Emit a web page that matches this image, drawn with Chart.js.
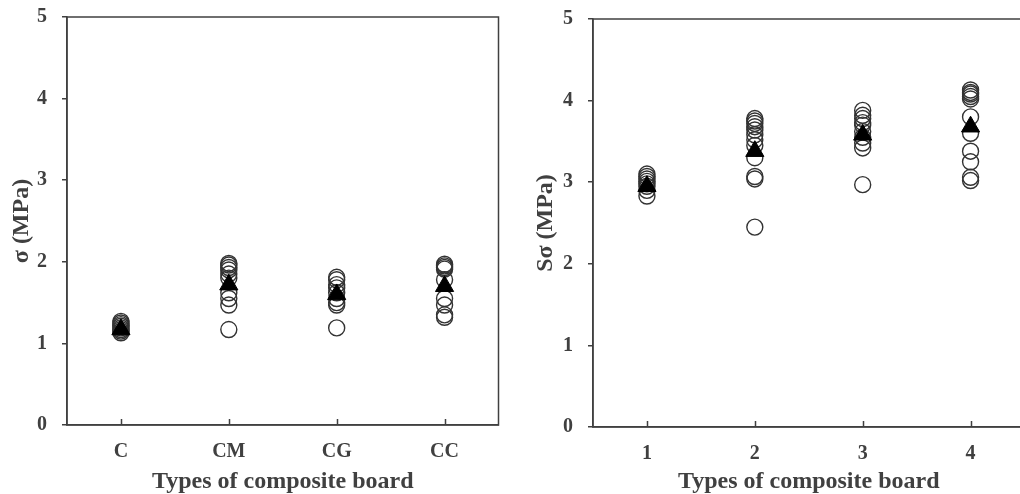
<!DOCTYPE html>
<html>
<head>
<meta charset="utf-8">
<script src="https://cdn.jsdelivr.net/npm/chart.js@4/dist/chart.umd.min.js"></script>
<style>
  html, body { margin: 0; padding: 0; background: #fff; overflow: hidden; }
  body { width: 1020px; height: 494px; position: relative; }
  canvas { position: absolute; top: 0; }
  #leftChart { left: 0; }
  #rightChart { left: 510px; }
</style>
</head>
<body>
<canvas id="leftChart" width="510" height="494"></canvas>
<canvas id="rightChart" width="526" height="494"></canvas>
<script>
// left panel: sigma per board type
const leftCats = ['C', 'CM', 'CG', 'CC'];
const leftVals = [
  [1.27, 1.25, 1.23, 1.21, 1.19, 1.17, 1.15, 1.13],
  [1.98, 1.96, 1.93, 1.90, 1.85, 1.80, 1.62, 1.55, 1.47, 1.17],
  [1.81, 1.78, 1.72, 1.68, 1.62, 1.55, 1.50, 1.47, 1.19],
  [1.97, 1.95, 1.93, 1.91, 1.78, 1.55, 1.47, 1.35, 1.32]
];
const leftMeans = [1.17, 1.72, 1.60, 1.70];

// right panel: S-sigma per board type
const rightCats = ['1', '2', '3', '4'];
const rightVals = [
  [3.10, 3.07, 3.04, 3.01, 2.98, 2.95, 2.90, 2.83],
  [3.78, 3.75, 3.72, 3.68, 3.64, 3.58, 3.52, 3.45, 3.30, 3.07, 3.04, 2.45],
  [3.88, 3.82, 3.78, 3.73, 3.70, 3.62, 3.55, 3.48, 3.42, 2.97],
  [4.13, 4.10, 4.08, 4.05, 4.02, 3.80, 3.60, 3.38, 3.25, 3.06, 3.02]
];
const rightMeans = [2.95, 3.38, 3.58, 3.68];

const yTicks = [0, 1, 2, 3, 4, 5];

const ink = '#404040';
const serif = '"Liberation Serif", "Times New Roman", serif';

// box round the plot area and short inward ticks on the x axis
const framePlugin = {
  id: 'frame',
  afterDraw(chart) {
    const { ctx, chartArea } = chart;
    const xs = chart.scales.x;
    ctx.save();
    ctx.strokeStyle = ink;
    ctx.lineWidth = 1.5;
    ctx.strokeRect(chartArea.left, chartArea.top, chartArea.right - chartArea.left, chartArea.bottom - chartArea.top);
    ctx.beginPath();
    xs.ticks.forEach((t, i) => {
      const px = Math.round(xs.getPixelForTick(i)) + 0.5;
      ctx.moveTo(px, chartArea.bottom);
      ctx.lineTo(px, chartArea.bottom - 6);
    });
    ctx.stroke();
    ctx.restore();
  }
};

function makeDatasets(cats, vals, means) {
  const pts = [];
  vals.forEach((arr, i) => arr.forEach(v => pts.push({ x: cats[i], y: v })));
  return [
    {
      label: 'mean',
      data: means.map((v, i) => ({ x: cats[i], y: v })),
      pointStyle: 'triangle',
      pointRadius: 10.5,
      backgroundColor: '#000',
      borderColor: '#000',
      borderWidth: 1
    },
    {
      label: 'samples',
      data: pts,
      pointStyle: 'circle',
      pointRadius: 8,
      backgroundColor: 'rgba(255,255,255,0)',
      borderColor: '#333',
      borderWidth: 1.4
    }
  ];
}

function drawPanel(id, cats, vals, means, yTitle, opts) {
  const ctx = document.getElementById(id).getContext('2d');
  new Chart(ctx, {
    type: 'scatter',
    data: { labels: cats, datasets: makeDatasets(cats, vals, means) },
    options: {
      responsive: false,
      animation: false,
      events: [],
      layout: { padding: { top: opts.top, right: opts.right, left: 0, bottom: 0 } },
      plugins: { legend: { display: false }, tooltip: { enabled: false } },
      scales: {
        x: {
          type: 'category',
          labels: cats,
          offset: true,
          grid: { display: true, drawOnChartArea: false, drawTicks: false },
          border: { display: true, color: ink, width: 1.5 },
          ticks: { color: ink, padding: 15, font: { family: serif, size: 20, weight: 'bold' } },
          title: {
            display: true,
            text: 'Types of composite board',
            color: ink,
            padding: { top: 0, bottom: opts.xTitleBottom },
            font: { family: serif, size: 24, weight: 'bold', lineHeight: 1 }
          },
          afterFit(scale) {
            scale.height = opts.xHeight;
            scale.paddingLeft = 0;
            scale.paddingRight = 0;
          }
        },
        y: {
          min: 0,
          max: 5,
          afterBuildTicks(scale) { scale.ticks = yTicks.map(v => ({ value: v })); },
          grid: { display: true, drawOnChartArea: false, drawTicks: true, tickLength: 5, color: ink, lineWidth: 1.5 },
          border: { display: true, color: ink, width: 1.5 },
          ticks: { color: ink, padding: 15, font: { family: serif, size: 20, weight: 'bold' } },
          title: {
            display: true,
            text: yTitle,
            color: ink,
            padding: { top: opts.yTitleTop, bottom: 0 },
            font: { family: serif, size: 24, weight: 'bold', lineHeight: 1 }
          },
          afterFit(scale) {
            scale.width = opts.yWidth;
            scale.paddingTop = 0;
            scale.paddingBottom = 0;
          }
        }
      }
    },
    plugins: [framePlugin]
  });
}

drawPanel('leftChart', leftCats, leftVals, leftMeans, 'σ (MPa)',
  { top: 17, right: 11, xHeight: 69, yWidth: 67, yTitleTop: 10, xTitleBottom: 0 });
drawPanel('rightChart', rightCats, rightVals, rightMeans, 'Sσ (MPa)',
  { top: 19, right: 9, xHeight: 67, yWidth: 83, yTitleTop: 24, xTitleBottom: 0 });
</script>
</body>
</html>
